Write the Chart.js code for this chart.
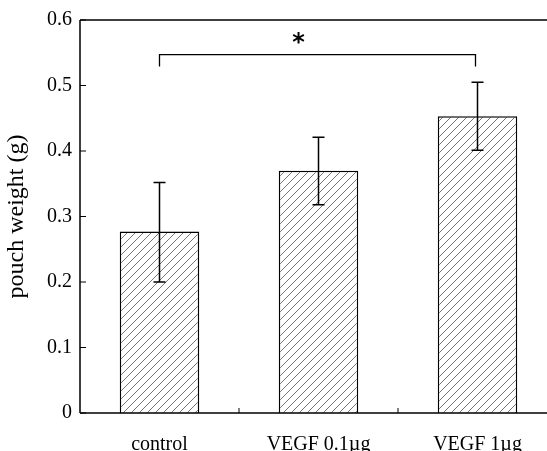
<!DOCTYPE html>
<html>
<head>
<meta charset="utf-8">
<script src="https://cdn.jsdelivr.net/npm/chart.js@4/dist/chart.umd.min.js"></script>
<style>
  html, body { margin: 0; padding: 0; background: #fff; overflow: hidden; }
  #wrap { width: 557px; height: 451px; }
</style>
</head>
<body>
<div id="wrap"><canvas id="pouchChart" width="557" height="451"></canvas></div>
<script>
// values
const categories = ["control", "VEGF 0.1\u00b5g", "VEGF 1\u00b5g"];
const weights = [0.277, 0.370, 0.453];
const errUpper = [0.352, 0.421, 0.505];
const errLower = [0.200, 0.318, 0.401];
const yTicks = [0, 0.1, 0.2, 0.3, 0.4, 0.5, 0.6];
const sigPair = [0, 2];
const sigLevel = 0.547;
const sigDrop = 0.529;
const sigMark = "*";

function hatch() {
    let c = document.createElement("canvas");
    c.width = 8; c.height = 8;
    let g = c.getContext("2d");
    g.fillStyle = "#fff";
    g.fillRect(0, 0, 8, 8);
    g.strokeStyle = "#555";
    g.lineWidth = 0.8;
    g.beginPath();
    g.moveTo(-1, 9); g.lineTo(9, -1);
    g.moveTo(-1, 1); g.lineTo(1, -1);
    g.moveTo(7, 9); g.lineTo(9, 7);
    g.stroke();
    return document.getElementById("pouchChart").getContext("2d").createPattern(c, "repeat");
}

const extras = {
    id: "extras",
    afterDatasetsDraw(chart) {
        let ctx = chart.ctx;
        let x = chart.scales.x, y = chart.scales.y;
        let a = chart.chartArea;
        ctx.save();
        ctx.strokeStyle = "#000";

        // error bars
        ctx.lineWidth = 1.5;
        for (let i = 0; i < weights.length; i++) {
            let px = x.getPixelForValue(i);
            let top = y.getPixelForValue(errUpper[i]);
            let bot = y.getPixelForValue(errLower[i]);
            ctx.beginPath();
            ctx.moveTo(px, top); ctx.lineTo(px, bot);
            ctx.moveTo(px - 6, top); ctx.lineTo(px + 6, top);
            ctx.moveTo(px - 6, bot); ctx.lineTo(px + 6, bot);
            ctx.stroke();
        }

        // frame: left, bottom, top
        ctx.lineWidth = 1.5;
        ctx.beginPath();
        ctx.moveTo(a.left, a.top); ctx.lineTo(a.left, a.bottom);
        ctx.moveTo(a.left, a.bottom); ctx.lineTo(a.right, a.bottom);
        ctx.moveTo(a.left, a.top); ctx.lineTo(a.right, a.top);
        ctx.stroke();

        // inward ticks
        ctx.lineWidth = 1;
        ctx.beginPath();
        yTicks.forEach(v => {
            let py = y.getPixelForValue(v);
            ctx.moveTo(a.left, py); ctx.lineTo(a.left + 6, py);
        });
        for (let i = 0; i < categories.length - 1; i++) {
            let px = (x.getPixelForValue(i) + x.getPixelForValue(i + 1)) / 2;
            ctx.moveTo(px, a.bottom); ctx.lineTo(px, a.bottom - 5);
        }
        ctx.stroke();

        // significance bracket
        let x1 = x.getPixelForValue(sigPair[0]);
        let x2 = x.getPixelForValue(sigPair[1]) - 2;
        let yl = y.getPixelForValue(sigLevel);
        let yd = y.getPixelForValue(sigDrop);
        ctx.lineWidth = 1.3;
        ctx.beginPath();
        ctx.moveTo(x1, yd); ctx.lineTo(x1, yl); ctx.lineTo(x2, yl); ctx.lineTo(x2, yd);
        ctx.stroke();
        ctx.fillStyle = "#000";
        ctx.font = "bold 24px 'DejaVu Sans', sans-serif";
        ctx.textAlign = "center";
        ctx.textBaseline = "middle";
        ctx.fillText(sigMark, x1 + (x2 - x1) * 0.44, yl - 11);
        ctx.restore();
    }
};

function drawPouchChart() {
    let ctx = document.getElementById("pouchChart").getContext("2d");
    new Chart(ctx, {
        type: "bar",
        data: {
            labels: categories,
            datasets: [{
                data: weights,
                backgroundColor: hatch(),
                borderColor: "#000",
                borderWidth: 1.5,
                borderSkipped: "bottom",
                barPercentage: 0.5,
                categoryPercentage: 1
            }]
        },
        options: {
            responsive: false,
            animation: false,
            layout: { padding: { top: 17, right: 0, left: 0, bottom: 0 } },
            plugins: { legend: { display: false }, tooltip: { enabled: false } },
            scales: {
                x: {
                    offset: true,
                    grid: { display: false, drawTicks: false },
                    border: { display: false },
                    ticks: { color: "#000", padding: 20, font: { family: "'Liberation Serif', serif", size: 20 } },
                    afterFit: s => { s.height = 38; }
                },
                y: {
                    min: 0, max: 0.6,
                    grid: { display: false, drawTicks: false },
                    border: { display: false },
                    afterBuildTicks: s => { s.ticks = yTicks.map(v => ({ value: v })); },
                    ticks: {
                        color: "#000", padding: 8,
                        font: { family: "'Liberation Serif', serif", size: 20 },
                        callback: v => String(v)
                    },
                    title: {
                        display: true, text: "pouch weight (g)", color: "#000",
                        font: { family: "'Liberation Serif', serif", size: 24 }, padding: 2
                    },
                    afterFit: s => { s.width = 80; }
                }
            }
        },
        plugins: [extras]
    });
}

drawPouchChart();
</script>
</body>
</html>
